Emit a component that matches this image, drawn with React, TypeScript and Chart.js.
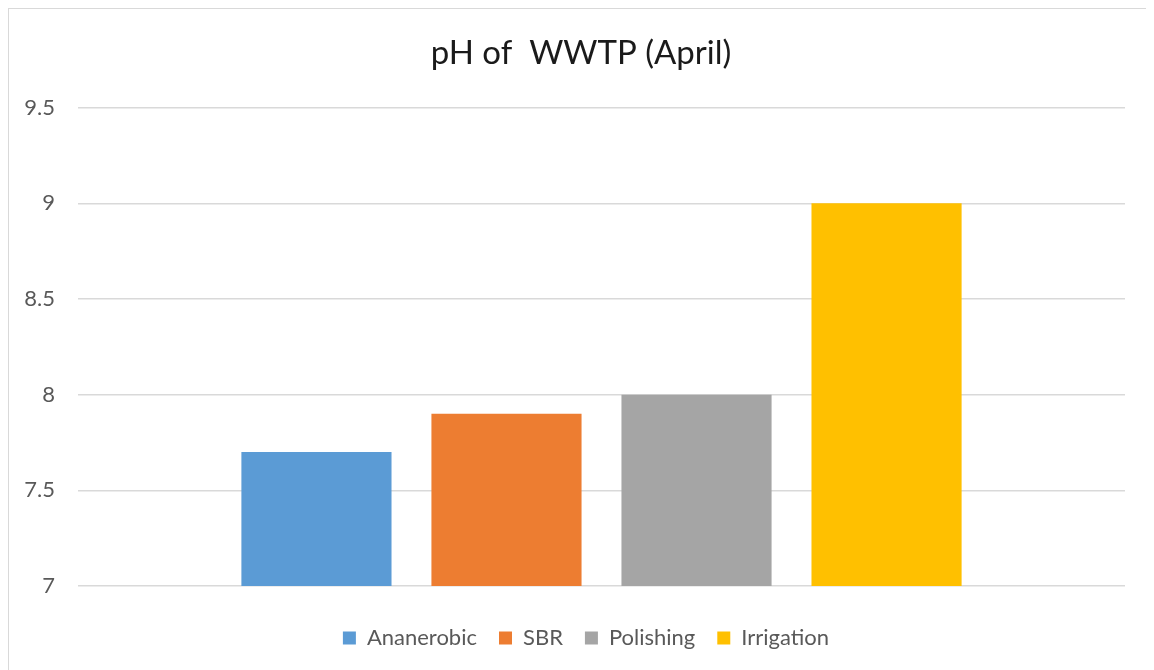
import React, { useEffect, useRef } from "react";
import { Chart, registerables } from "chart.js";

Chart.register(...registerables);

const categories = [""];
const seriesNames = ["Ananerobic", "SBR", "Polishing", "Irrigation"];
const seriesValues = [7.7, 7.9, 8.0, 9.0];
const seriesColors = ["#5B9BD5", "#ED7D31", "#A5A5A5", "#FFC000"];
const yMin = 7;
const yMax = 9.5;
const yStep = 0.5;
const titleText = "pH of  WWTP (April)";

const shiftBoxes = {
  id: "shiftBoxes",
  afterLayout(chart: any) {
    const t = chart.titleBlock;
    if (t) {
      t.left += 14;
      t.right += 14;
    }
    const l = chart.legend;
    if (l) {
      l.left += 19;
      l.right += 19;
    }
  },
};

export default function App() {
  const ref = useRef<HTMLCanvasElement | null>(null);
  useEffect(() => {
    if (!ref.current) return;
    const chart = new Chart(ref.current, {
      type: "bar",
      data: {
        labels: categories,
        datasets: seriesNames.map((n, i) => ({
          label: n,
          data: [seriesValues[i]],
          backgroundColor: seriesColors[i],
          borderWidth: 0,
          barPercentage: 0.79,
          categoryPercentage: 0.726,
        })),
      },
      plugins: [shiftBoxes],
      options: {
        responsive: false,
        animation: false,
        maintainAspectRatio: false,
        layout: { padding: { left: 0, right: 28, top: 0, bottom: 12 } },
        plugins: {
          title: {
            display: true,
            text: titleText,
            color: "#1a1a1a",
            font: { family: "Lato", size: 33, weight: "normal" },
            padding: { top: 25, bottom: 34 },
          },
          legend: {
            position: "bottom",
            labels: {
              color: "#595959",
              font: { family: "Lato", size: 22 },
              boxWidth: 13,
              boxHeight: 13,
              padding: 22,
            },
          },
          tooltip: { enabled: false },
        },
        scales: {
          x: {
            ticks: { display: false },
            grid: { display: false },
            border: { display: false },
            afterFit: (s: any) => {
              s.height = 19;
            },
          },
          y: {
            min: yMin,
            max: yMax,
            ticks: {
              stepSize: yStep,
              color: "#595959",
              font: { family: "Lato", size: 22 },
              padding: 23,
              callback: (v: any) => String(Number(v)),
            },
            grid: { color: "#d9d9d9", lineWidth: 1.5, drawTicks: false },
            border: { display: false },
            afterFit: (s: any) => {
              s.width = 69;
            },
          },
        },
      },
    });
    return () => chart.destroy();
  }, []);
  return (
    <div
      style={{
        width: 1146,
        height: 664,
        border: "1px solid #d9d9d9",
        boxSizing: "border-box",
        background: "#fff",
      }}
    >
      <canvas ref={ref} width={1144} height={662} style={{ display: "block" }} />
    </div>
  );
}
